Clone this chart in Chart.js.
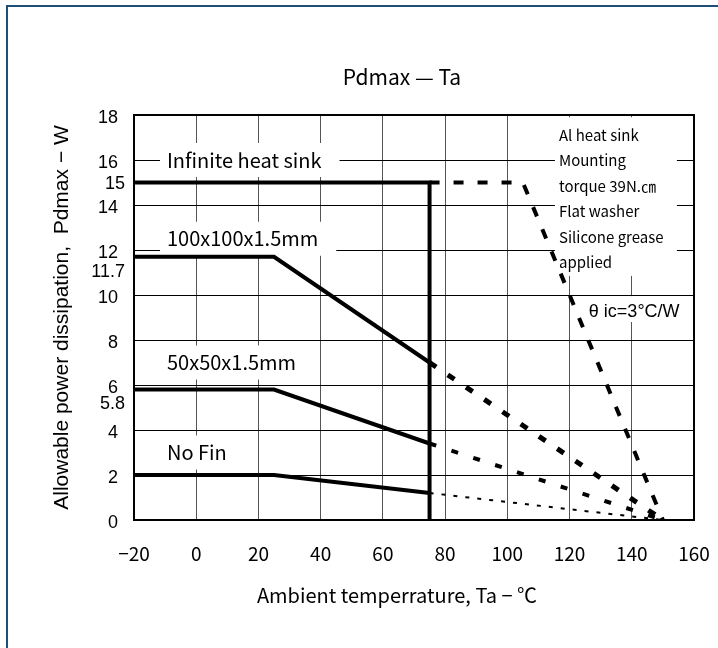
<!DOCTYPE html>
<html lang="en">
<head>
<meta charset="UTF-8">
<title>Pdmax - Ta</title>
<script src="https://cdn.jsdelivr.net/npm/chart.js"></script>
<style>
  body { margin: 0; background: #fff; }
  .wrap { position: relative; width: 718px; height: 648px; overflow: hidden; }
  /* navy sheet border, only left and top show inside the window */
  .sheet { position: absolute; left: 6px; top: 5px; width: 760px; height: 700px; border: 2px solid #1f4e79; pointer-events: none; }
</style>
</head>
<body>
<div class="wrap">
  <canvas id="pdChart" width="718" height="648"></canvas>
  <div class="sheet"></div>
</div>
<script>
// Ambient temperature (degC) -> allowable Pd (W)
const infSolidX = [-20, 75, 75];
const infSolidY = [15, 15, 0];
const infDashX = [75, 105, 150];
const infDashY = [15, 15, 0];

const fin100SolidX = [-20, 25, 75];
const fin100SolidY = [11.7, 11.7, 7.0];
const fin100DashX = [75, 150];
const fin100DashY = [7.0, 0];

const fin50SolidX = [-20, 25, 75];
const fin50SolidY = [5.8, 5.8, 3.4];
const fin50DashX = [75, 150];
const fin50DashY = [3.4, 0];

const noFinSolidX = [-20, 25, 75];
const noFinSolidY = [2, 2, 1.2];
const noFinDotX = [75, 150];
const noFinDotY = [1.2, 0];

const xTicks = [-20, 0, 20, 40, 60, 80, 100, 120, 140, 160];
const yTicks = [0, 2, 4, 6, 8, 10, 12, 14, 16, 18];
const yExtraTicks = [15, 11.7, 5.8];

const curveNames = ['Infinite heat sink', '100x100x1.5mm', '50x50x1.5mm', 'No Fin'];
const noteLines = ['Al heat sink', 'Mounting', 'torque 39N.㎝', 'Flat washer', 'Silicone grease', 'applied'];
const thetaNote = 'θ ic=3°C/W';

// where the annotations sit (in axis units), kept apart from the data
const curveLabelAt = [[-9.4, 16], [-9.4, 12.5], [-9.4, 7], [-9.4, 3]];
const extraTickShift = [2, 15, 15];

function pts(xs, ys) {
  return xs.map((v, i) => ({ x: v, y: ys[i] }));
}

function line(xs, ys, width, dash) {
  return {
    data: pts(xs, ys),
    borderColor: '#000',
    borderWidth: width,
    borderDash: dash || [],
    borderCapStyle: 'butt',
    pointRadius: 0,
    tension: 0,
    fill: false,
    clip: false
  };
}

const cjk = '"Noto Sans CJK JP", sans-serif';
const sans = '"Liberation Sans", Arial, sans-serif';

const decor = {
  id: 'decor',
  beforeDatasetsDraw(chart) {
    const { ctx, chartArea: a, scales: { x, y } } = chart;
    ctx.save();

    // white boxes behind the curve names
    ctx.font = '20px ' + cjk;
    ctx.fillStyle = '#fff';
    curveNames.forEach((t, i) => {
      const px = x.getPixelForValue(curveLabelAt[i][0]);
      const py = y.getPixelForValue(curveLabelAt[i][1]);
      ctx.fillRect(px - 7, py - 17, ctx.measureText(t).width + 25, 34);
    });

    // note box + theta box
    const nx0 = x.getPixelForValue(115.3), nx1 = x.getPixelForValue(154.5);
    const ny0 = y.getPixelForValue(17.9), ny1 = y.getPixelForValue(10.85);
    ctx.fillRect(nx0, ny0, nx1 - nx0, ny1 - ny0);
    const tx0 = x.getPixelForValue(120) + 1, tx1 = x.getPixelForValue(159.4);
    const ty0 = y.getPixelForValue(9.95), ty1 = y.getPixelForValue(8.8);
    ctx.fillRect(tx0, ty0, tx1 - tx0, ty1 - ty0);

    // plot frame
    ctx.strokeStyle = '#000';
    ctx.lineWidth = 2;
    ctx.strokeRect(a.left, a.top, a.right - a.left, a.bottom - a.top);

    ctx.fillStyle = '#000';
    ctx.textBaseline = 'middle';
    ctx.textAlign = 'left';
    ctx.font = '20px ' + cjk;
    curveNames.forEach((t, i) => {
      ctx.fillText(t, x.getPixelForValue(curveLabelAt[i][0]), y.getPixelForValue(curveLabelAt[i][1]));
    });

    ctx.font = '15px ' + cjk;
    const lx = x.getPixelForValue(116.6);
    const ly = y.getPixelForValue(17.1);
    noteLines.forEach((t, i) => ctx.fillText(t, lx, ly + i * 25.4));

    ctx.font = '18px ' + sans;
    ctx.fillText(thetaNote, x.getPixelForValue(126.2), y.getPixelForValue(9.24));

    // extra y labels at the curve levels
    ctx.textAlign = 'right';
    ctx.font = '18px ' + sans;
    yExtraTicks.forEach((v, i) => {
      ctx.fillText(String(v), a.left - 9, y.getPixelForValue(v) + extraTickShift[i]);
    });

    // titles
    ctx.textAlign = 'center';
    ctx.font = '21px ' + cjk;
    ctx.fillText('Pdmax — Ta', (a.left + a.right) / 2 - 12, a.top - 38);
    ctx.font = '20px ' + cjk;
    ctx.fillText('Ambient temperrature, Ta − ℃', (a.left + a.right) / 2 - 17, a.bottom + 75);

    ctx.restore();
  }
};

new Chart(document.getElementById('pdChart'), {
  type: 'line',
  data: {
    datasets: [
      line(infSolidX, infSolidY, 4),
      line(infDashX, infDashY, 4, [10, 14]),
      line(fin100SolidX, fin100SolidY, 4),
      line(fin100DashX, fin100DashY, 5, [8, 14]),
      line(fin50SolidX, fin50SolidY, 4),
      line(fin50DashX, fin50DashY, 4, [7, 16]),
      line(noFinSolidX, noFinSolidY, 4),
      line(noFinDotX, noFinDotY, 2, [4, 8])
    ]
  },
  options: {
    responsive: false,
    animation: false,
    devicePixelRatio: 1,
    layout: { padding: { left: 0, right: 24, top: 115, bottom: 0 } },
    plugins: {
      legend: { display: false },
      tooltip: { enabled: false },
      title: { display: false }
    },
    scales: {
      x: {
        type: 'linear',
        min: -20,
        max: 160,
        afterBuildTicks: s => { s.ticks = xTicks.map(v => ({ value: v })); },
        afterFit: s => { s.height = 128; },
        grid: { color: '#555', lineWidth: 1, drawTicks: true, tickLength: 19, tickColor: 'rgba(0,0,0,0)' },
        border: { display: false },
        ticks: {
          color: '#000',
          font: { family: cjk, size: 19 },
          padding: 3,
          maxRotation: 0,
          callback: v => String(v).replace('-', '−')
        }
      },
      y: {
        min: 0,
        max: 18,
        afterBuildTicks: s => { s.ticks = yTicks.map(v => ({ value: v })); },
        afterFit: s => { s.width = 134; },
        grid: { color: '#000', lineWidth: 1, drawTicks: false },
        border: { display: false },
        ticks: { color: '#000', font: { family: sans, size: 18 }, padding: 16, labelOffset: 3 },
        title: {
          display: true,
          text: 'Allowable power dissipation,  Pdmax − W',
          color: '#000',
          font: { family: sans, size: 21 },
          padding: { top: 50, bottom: 0 }
        }
      }
    }
  },
  plugins: [decor]
});
</script>
</body>
</html>
